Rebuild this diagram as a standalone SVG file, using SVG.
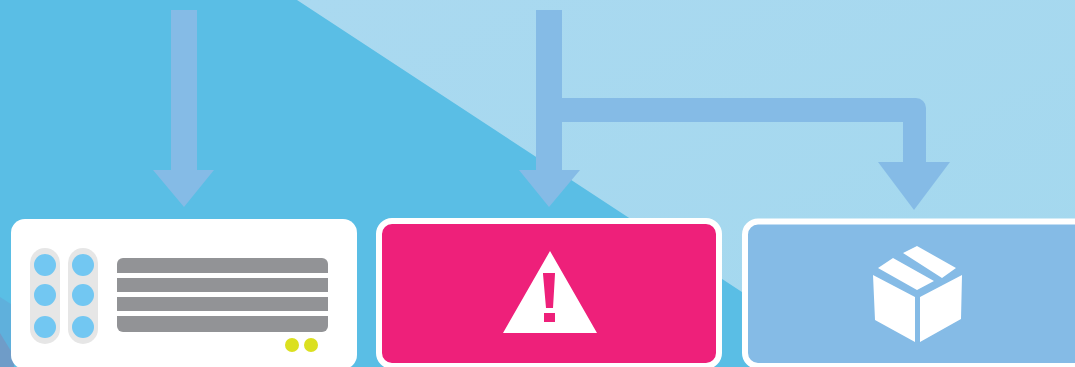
<svg xmlns="http://www.w3.org/2000/svg" width="1075" height="367" viewBox="0 0 1075 367">
<defs><style>
.conn{fill:#85bbe6}
.slot{fill:#e6e6e6}
.led{fill:#72c7f2}
.bar{fill:#929396}
.dot{fill:#dbe020}
.ico{fill:#fff}
</style>
<linearGradient id="sky" x1="0" y1="0" x2="1" y2="1"><stop offset="0" stop-color="#aad9f0"/><stop offset="1" stop-color="#a3d8ee"/></linearGradient>
</defs>
<rect width="1075" height="367" fill="#5abee5"/>
<polygon points="297,0 1075,0 1075,367 825,367 745,294" fill="url(#sky)"/>
<polygon points="0,297 14,306 14,367 0,367" fill="#5fb0dc"/>
<polygon points="0,333 14,356 14,367 0,367" fill="#6f9cc8"/>
<g id="connectors">
<path class="conn" d="M171 10H197V170H214L184 207L153 170H171Z"/>
<path class="conn" d="M536 10H562V98H916A10 10 0 0 1 926 108V162H950L914 210L878 162H903V122H562V170H580L549 207L519 170H536Z"/>
</g>
<g id="server">
<rect x="11" y="219" width="346" height="150" rx="14" fill="#fff"/>
<rect class="slot" x="30" y="248" width="30" height="96" rx="15"/>
<rect class="slot" x="68" y="248" width="30" height="96" rx="15"/>
<circle class="led" cx="45" cy="265" r="11"/><circle class="led" cx="45" cy="295" r="11"/><circle class="led" cx="45" cy="327" r="11"/>
<circle class="led" cx="83" cy="265" r="11"/><circle class="led" cx="83" cy="295" r="11"/><circle class="led" cx="83" cy="327" r="11"/>
<path class="bar" d="M117 264a6 6 0 0 1 6-6H322a6 6 0 0 1 6 6V273H117Z"/>
<rect class="bar" x="117" y="278" width="211" height="14"/>
<rect class="bar" x="117" y="297" width="211" height="14"/>
<path class="bar" d="M117 316H328V326a6 6 0 0 1-6 6H123a6 6 0 0 1-6-6Z"/>
<circle class="dot" cx="292" cy="345" r="7"/><circle class="dot" cx="311" cy="345" r="7"/>
</g>
<g id="alert">
<rect x="379" y="221" width="340" height="145" rx="13" fill="#ee207a" stroke="#fff" stroke-width="6"/>
<path class="ico" fill-rule="evenodd" d="M550 251L597 333H503ZM543 273V274L546 308H553L555 274V273ZM544 313V322H555V313Z"/>
</g>
<g id="package">
<rect x="745" y="221.500" width="360" height="144.500" rx="13" fill="#85bbe6" stroke="#fff" stroke-width="6"/>
<path class="ico" d="M873 275L915 297V342L875 320ZM962 275L920 297V342L961 319ZM878 268L893 258L934 281L917 290ZM903 253L917 246L956 268L942 278Z"/>
</g>
</svg>
